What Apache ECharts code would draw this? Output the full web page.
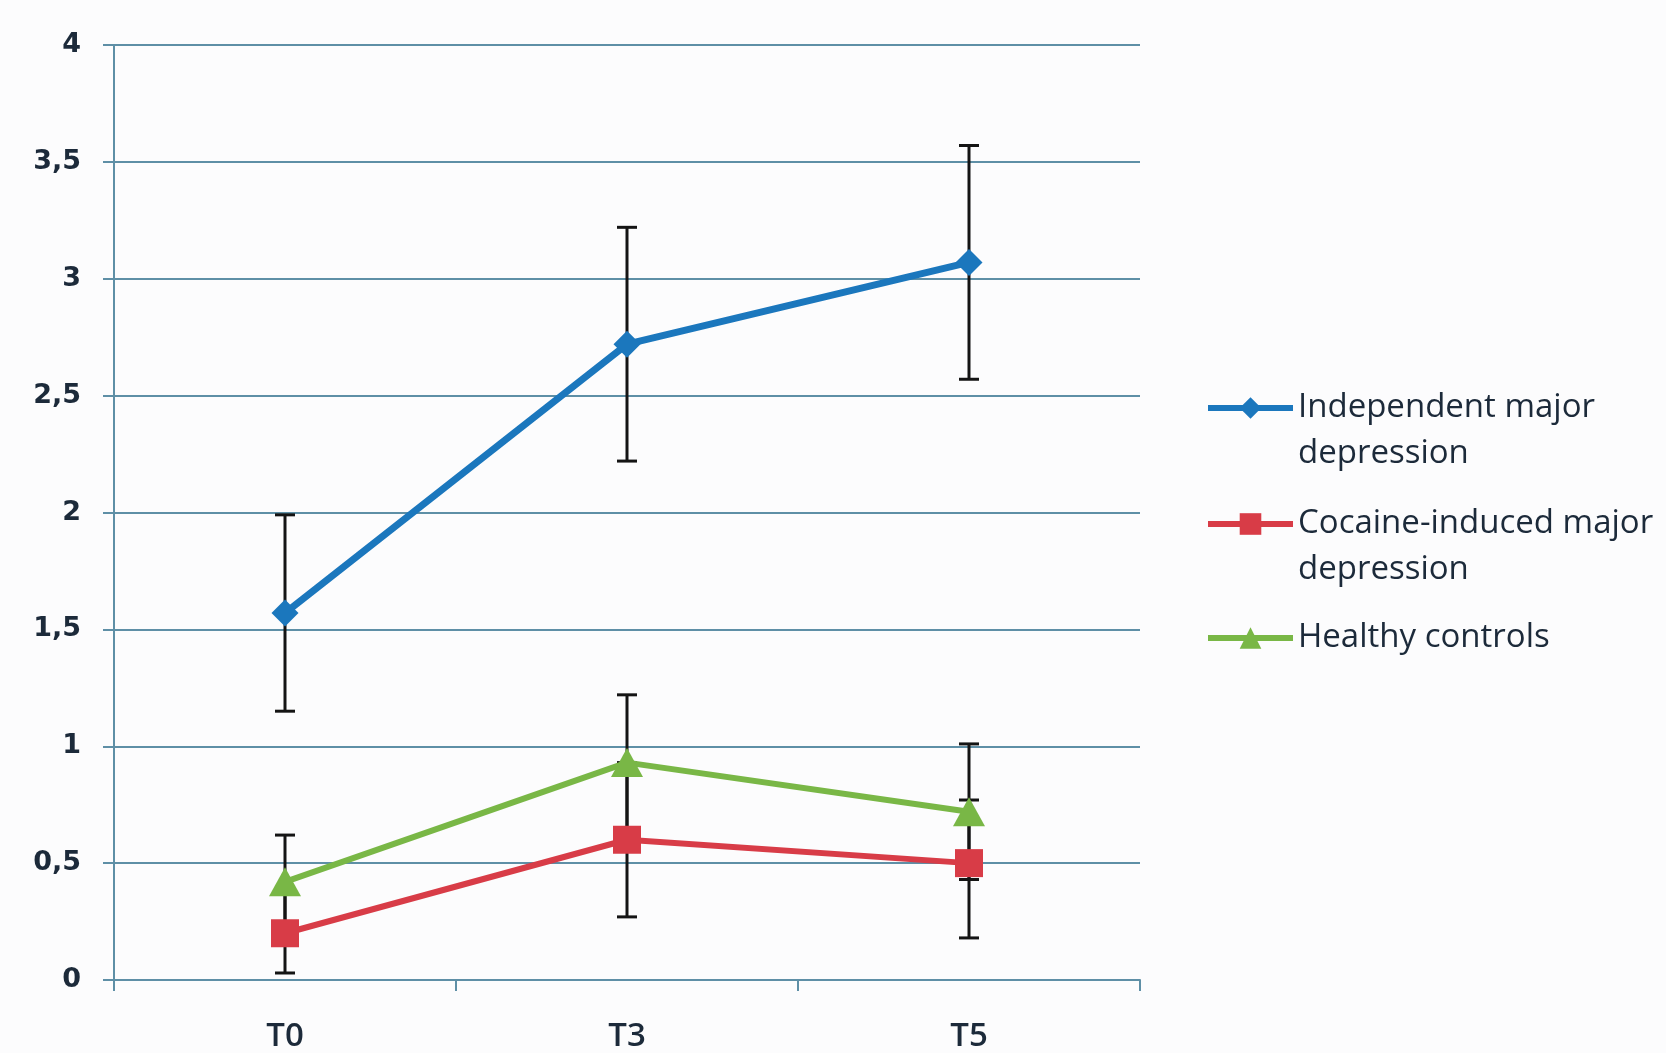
<!DOCTYPE html>
<html>
<head>
<meta charset="utf-8">
<script src="https://cdn.jsdelivr.net/npm/echarts@6/dist/echarts.min.js"></script>
<style>
  html, body { margin: 0; padding: 0; background: #fcfcfd; }
  #chart { width: 1666px; height: 1053px; }
</style>
</head>
<body>
<div id="chart"></div>
<script>
// time points
var categories = ['T0', 'T3', 'T5'];
var yTicks = [0, 0.5, 1, 1.5, 2, 2.5, 3, 3.5, 4];

// means
var independentMD = [1.57, 2.72, 3.07];
var cocaineMD = [0.20, 0.60, 0.50];
var healthy = [0.42, 0.93, 0.72];

// error bar bounds [low, high]
var independentLow = [1.15, 2.22, 2.57];
var independentHigh = [1.99, 3.22, 3.57];
var cocaineLow = [0.03, 0.27, 0.18];
var cocaineHigh = [0.37, 0.93, 0.77];
var healthyLow = [0.22, 0.64, 0.43];
var healthyHigh = [0.62, 1.22, 1.01];

var names = ['Independent major depression', 'Cocaine-induced major depression', 'Healthy controls'];
// leading blank line keeps the icon level with the first text line
var wrapped = {
  'Independent major depression': ' \nIndependent major\ndepression',
  'Cocaine-induced major depression': ' \nCocaine-induced major\ndepression',
  'Healthy controls': 'Healthy controls'
};

var gridColor = '#5e8fa6';
var textColor = '#1c2a3a';

function errData(low, high) {
  return categories.map(function (c, i) { return [i, low[i], high[i]]; });
}

function errSeries(low, high) {
  return {
    type: 'custom',
    z: 1,
    silent: true,
    renderItem: function (params, api) {
      var x = api.value(0);
      var lo = api.coord([x, api.value(1)]);
      var hi = api.coord([x, api.value(2)]);
      var w = 10;
      var style = { stroke: '#141414', lineWidth: 3 };
      return {
        type: 'group',
        children: [
          { type: 'line', shape: { x1: lo[0], y1: lo[1], x2: hi[0], y2: hi[1] }, style: style },
          { type: 'line', shape: { x1: lo[0] - w, y1: lo[1], x2: lo[0] + w, y2: lo[1] }, style: style },
          { type: 'line', shape: { x1: hi[0] - w, y1: hi[1], x2: hi[0] + w, y2: hi[1] }, style: style }
        ]
      };
    },
    encode: { x: 0, y: [1, 2] },
    data: errData(low, high)
  };
}

function legendFor(name, top) {
  return {
    data: [name],
    left: 1205,
    top: top,
    padding: 0,
    itemWidth: 85,
    itemHeight: 27,
    lineStyle: { width: 6 },
    formatter: function (n) { return wrapped[n]; },
    textStyle: {
      fontFamily: 'Open Sans',
      fontSize: 33,
      color: textColor,
      lineHeight: 46
    }
  };
}

var chart = echarts.init(document.getElementById('chart'));
chart.setOption({
  backgroundColor: '#fcfcfd',
  animation: false,
  grid: { left: 114, right: 526, top: 45, bottom: 72 },
  legend: [
    legendFor(names[0], 339),
    legendFor(names[1], 455),
    legendFor(names[2], 615)
  ],
  xAxis: {
    type: 'category',
    data: categories,
    boundaryGap: true,
    axisLine: { lineStyle: { color: gridColor, width: 2 } },
    axisTick: { show: true, length: 11, lineStyle: { color: gridColor, width: 2 } },
    axisLabel: { fontFamily: 'Open Sans', fontWeight: 600, fontSize: 33, color: textColor, margin: 40 }
  },
  yAxis: {
    type: 'value',
    min: 0,
    max: 4,
    interval: 0.5,
    axisLine: { show: true, lineStyle: { color: gridColor, width: 2 } },
    axisTick: { show: true, length: 11, lineStyle: { color: gridColor, width: 2 } },
    splitLine: { lineStyle: { color: gridColor, width: 2 } },
    axisLabel: {
      fontFamily: 'DejaVu Sans',
      fontWeight: 'bold',
      fontSize: 27,
      color: textColor,
      margin: 33,
      formatter: function (v) { return yTicks.indexOf(v) >= 0 ? String(v).replace('.', ',') : ''; }
    }
  },
  series: [
    errSeries(independentLow, independentHigh),
    errSeries(cocaineLow, cocaineHigh),
    errSeries(healthyLow, healthyHigh),
    {
      name: names[0], type: 'line', z: 3, data: independentMD,
      symbol: 'diamond', symbolSize: 27,
      lineStyle: { color: '#1b77bd', width: 7 },
      itemStyle: { color: '#1b77bd' }
    },
    {
      name: names[1], type: 'line', z: 3, data: cocaineMD,
      symbol: 'rect', symbolSize: 28,
      lineStyle: { color: '#d83c47', width: 6 },
      itemStyle: { color: '#d83c47' }
    },
    {
      name: names[2], type: 'line', z: 3, data: healthy,
      symbol: 'triangle', symbolSize: [32, 29],
      lineStyle: { color: '#79b746', width: 6 },
      itemStyle: { color: '#79b746' }
    }
  ]
});
</script>
</body>
</html>
